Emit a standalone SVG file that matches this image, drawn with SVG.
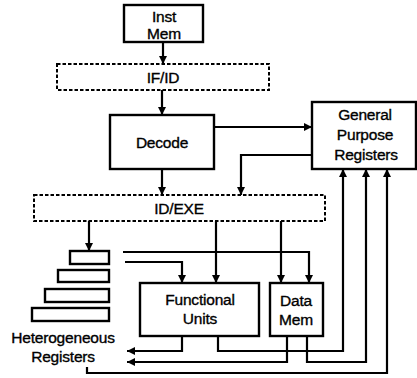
<svg xmlns="http://www.w3.org/2000/svg" width="417" height="378" viewBox="0 0 417 378">
  <defs>
    <marker id="arr" viewBox="0 0 10 10" refX="10" refY="5" markerWidth="8" markerHeight="9" markerUnits="userSpaceOnUse" orient="auto">
      <path d="M0,0 L10,5 L0,10 z" fill="#000"/>
    </marker>
    <style>
      .box { fill: #fff; stroke: #000; stroke-width: 2.4; }
      .latch { fill: #fff; stroke: #000; stroke-width: 2; stroke-dasharray: 3.5 2; }
      .reg { fill: #fff; stroke: #000; stroke-width: 2.4; }
      .lbl { font-family: "Liberation Sans", Arial, sans-serif; font-size: 15.5px; fill: #000; stroke: #000; stroke-width: 0.35; text-anchor: middle; letter-spacing: -0.2px; }
      .wire { fill: none; stroke: #000; stroke-width: 2.2; stroke-linejoin: miter; }
      .arw { marker-end: url(#arr); }
    </style>
  </defs>
  <rect width="417" height="378" fill="#fff"/>

  <!-- pipeline stages and storage blocks -->
  <g id="inst-mem">
    <rect class="box" x="124" y="5" width="79" height="37"/>
    <text class="lbl" x="164" y="22">Inst</text>
    <text class="lbl" x="164" y="39">Mem</text>
  </g>
  <g id="if-id">
    <rect class="latch" x="57" y="64" width="212" height="26"/>
    <text class="lbl" x="163" y="83">IF/ID</text>
  </g>
  <g id="decode">
    <rect class="box" x="110" y="115" width="104" height="54"/>
    <text class="lbl" x="162" y="148">Decode</text>
  </g>
  <g id="gpr">
    <rect class="box" x="312" y="102" width="104" height="67"/>
    <text class="lbl" x="365" y="120">General</text>
    <text class="lbl" x="365" y="140">Purpose</text>
    <text class="lbl" x="366" y="160">Registers</text>
  </g>
  <g id="id-exe">
    <rect class="latch" x="34" y="195" width="291" height="26"/>
    <text class="lbl" x="179" y="214">ID/EXE</text>
  </g>
  <g id="hetero-regs">
    <rect class="reg" x="70" y="251" width="39" height="13"/>
    <rect class="reg" x="58" y="270" width="51" height="12"/>
    <rect class="reg" x="45" y="289" width="64" height="13"/>
    <rect class="reg" x="32" y="308" width="77" height="13"/>
    <text class="lbl" x="63" y="343">Heterogeneous</text>
    <text class="lbl" x="63" y="362">Registers</text>
  </g>
  <g id="functional-units">
    <rect class="box" x="140" y="283" width="119" height="53"/>
    <text class="lbl" x="200" y="305">Functional</text>
    <text class="lbl" x="200" y="324">Units</text>
  </g>
  <g id="data-mem">
    <rect class="box" x="270" y="283" width="53" height="53"/>
    <text class="lbl" x="296" y="306">Data</text>
    <text class="lbl" x="296" y="325">Mem</text>
  </g>

  <!-- connectors -->
  <g id="connectors">
    <path class="wire arw" d="M163,42 V64"/>
    <path class="wire arw" d="M162,90 V115"/>
    <path class="wire arw" d="M214,127 H312"/>
    <path class="wire arw" d="M312,155 H241 V195"/>
    <path class="wire arw" d="M162,169 V195"/>

    <path class="wire arw" d="M89,221 V251"/>
    <path class="wire arw" d="M216,221 V283"/>
    <path class="wire arw" d="M281,221 V283"/>
    <path class="wire arw" d="M123,252 H309 V283"/>
    <path class="wire arw" d="M125,262 H182 V283"/>

    <path class="wire arw" d="M182,336 V351 H127"/>
    <path class="wire arw" d="M287,336 V362 H127"/>
    <path class="wire arw" d="M218,336 V351 H343 V169"/>
    <path class="wire arw" d="M307,336 V362 H366 V169"/>
    <path class="wire arw" d="M87,367 V373 H387 V169"/>
  </g>
</svg>
